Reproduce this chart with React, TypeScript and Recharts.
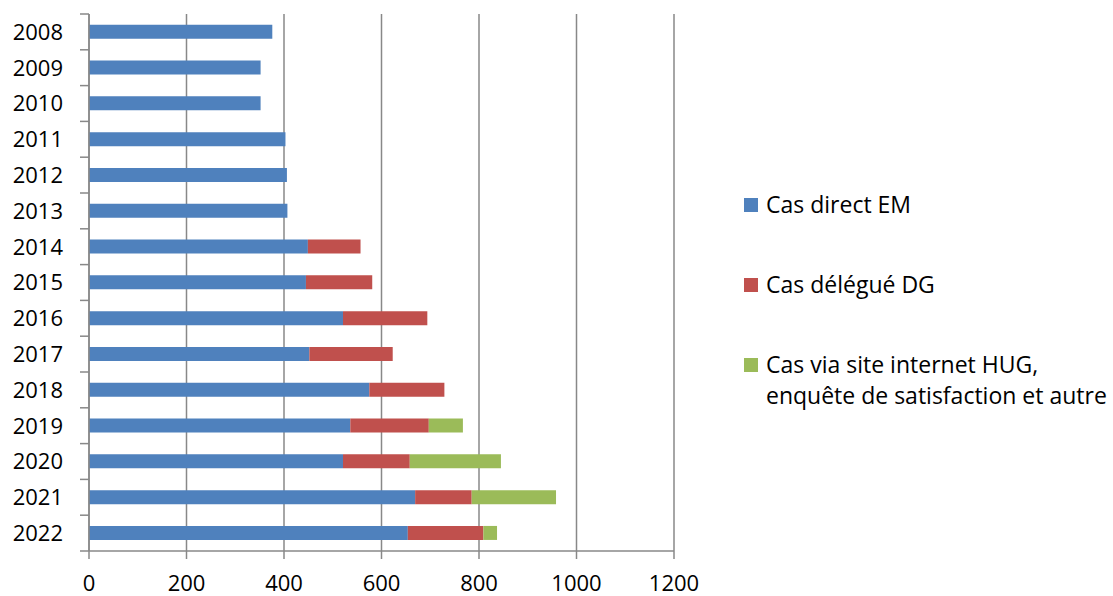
import React from "react"
import { Bar, BarChart, CartesianGrid, XAxis, YAxis } from "recharts"

const years = ["2008", "2009", "2010", "2011", "2012", "2013", "2014", "2015", "2016", "2017", "2018", "2019", "2020", "2021", "2022"]
const casDirect = [376, 352, 352, 403, 406, 407, 449, 445, 521, 452, 575, 536, 521, 669, 654]
const casDelegue = [0, 0, 0, 0, 0, 0, 108, 136, 173, 171, 154, 161, 137, 116, 155]
const casInternet = [0, 0, 0, 0, 0, 0, 0, 0, 0, 0, 0, 70, 187, 173, 28]
const xTicks = [0, 200, 400, 600, 800, 1000, 1200]

const series = [
  { key: "direct", name: "Cas direct EM", color: "#4F81BD" },
  { key: "delegue", name: "Cas délégué DG", color: "#C0504D" },
  { key: "internet", name: "Cas via site internet HUG,\nenquête de satisfaction et autre", color: "#9BBB59" },
]

const data = years.map((y, i) => ({
  year: y,
  direct: casDirect[i],
  delegue: casDelegue[i],
  internet: casInternet[i],
}))

const FONT = "'Open Sans', sans-serif"
const AXIS = "#888888"
const Y_MARGIN = 26

// year label plus the small Excel-style marks between categories
function YearTick(props: any) {
  const { x, y, payload, index } = props
  const half = payload.offset || 0
  const ax = x + Y_MARGIN
  return (
    <g>
      <line x1={ax - 9} x2={ax} y1={y - half} y2={y - half} stroke={AXIS} strokeWidth={1.5} />
      {index === years.length - 1 && (
        <line x1={ax - 9} x2={ax} y1={y + half} y2={y + half} stroke={AXIS} strokeWidth={1.5} />
      )}
      <text x={x} y={y} dy="0.355em" textAnchor="end" fill="#000" fontSize={22} fontFamily={FONT}>
        {payload.value}
      </text>
    </g>
  )
}

export default function App() {
  const legendTops = [189, 269, 349]
  return (
    <div style={{ position: "absolute", left: 0, top: 0, width: 1113, height: 596, background: "#fff", fontFamily: FONT }}>
      <BarChart
        width={700}
        height={596}
        data={data}
        layout="vertical"
        margin={{ top: 14, right: 26, bottom: 0, left: 0 }}
        barCategoryGap="30%"
      >
        <CartesianGrid horizontal={false} stroke={AXIS} strokeWidth={1.5} />
        <XAxis
          type="number"
          domain={[0, 1200]}
          ticks={xTicks}
          height={45}
          stroke={AXIS}
          strokeWidth={1.5}
          tickSize={8}
          tickMargin={16}
          tick={{ fill: "#000", fontSize: 22, fontFamily: FONT }}
        />
        <YAxis
          type="category"
          dataKey="year"
          width={89}
          stroke={AXIS}
          strokeWidth={1.5}
          tickLine={false}
          tickSize={0}
          tickMargin={Y_MARGIN}
          interval={0}
          tick={<YearTick />}
        />
        {series.map((s) => (
          <Bar key={s.key} dataKey={s.key} name={s.name} stackId="a" fill={s.color} isAnimationActive={false} />
        ))}
      </BarChart>
      {series.map((s, i) => (
        <div key={s.key} style={{ position: "absolute", left: 744, top: legendTops[i], display: "flex", alignItems: "flex-start" }}>
          <div style={{ width: 14, height: 14, background: s.color, marginTop: 9, marginRight: 8 }} />
          <div style={{ fontSize: 23, lineHeight: "31px", color: "#000", whiteSpace: "pre" }}>{s.name}</div>
        </div>
      ))}
    </div>
  )
}
